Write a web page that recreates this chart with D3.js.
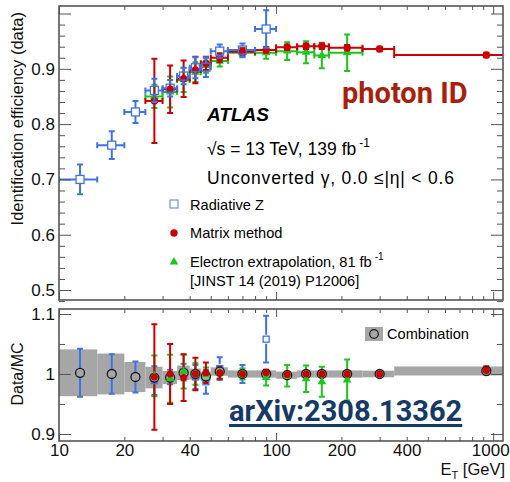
<!DOCTYPE html>
<html>
<head>
<meta charset="utf-8">
<script src="https://cdn.jsdelivr.net/npm/d3@7"></script>
<style>
  body { margin: 0; background: #fff; }
  svg { display: block; }
  text { font-family: "Liberation Sans", Arial, sans-serif; }
</style>
</head>
<body>
<svg id="chart"></svg>
<script>
// ---- data ----
const binLo  = [10, 15, 20, 25, 30, 35, 40, 45, 50, 60, 80, 100, 125, 150, 175, 250, 350];
const binHi  = [15, 20, 25, 30, 35, 40, 45, 50, 60, 80, 100, 125, 150, 175, 250, 350, 1500];
const binMid = [12.5, 17.5, 22.5, 27.5, 32.5, 37.5, 42.5, 47.5, 55, 70, 90, 112.5, 137.5, 162.5, 212.5, 300, 930];

// Radiative Z (bins 0-10)
const radZEff      = [0.700, 0.762, 0.822, 0.861, 0.865, 0.887, 0.902, 0.903, 0.932, 0.934, 0.972];
const radZEffErr   = [0.027, 0.025, 0.020, 0.021, 0.015, 0.015, 0.019, 0.018, 0.012, 0.012, 0.034];
const radZRatio    = [1.002, 1.000, 0.995, 0.989, 0.995, 1.003, 0.995, 0.987, 1.009, 1.000, 1.058];
const radZRatioErr = [0.040, 0.033, 0.026, 0.024, 0.012, 0.014, 0.020, 0.020, 0.019, 0.015, 0.039];

// Matrix method (bins 3-16)
const mmEff      = [0.842, 0.863, 0.882, 0.898, 0.910, 0.920, 0.931, 0.934, 0.939, 0.941, 0.941, 0.938, 0.936, 0.925];
const mmEffErr   = [0.076, 0.043, 0.033, 0.024, 0.012, 0.008, 0.006, 0.005, 0.005, 0.005, 0.005, 0.005, 0.004, 0.004];
const mmRatio    = [0.995, 1.000, 0.994, 1.000, 1.002, 1.002, 1.000, 1.002, 0.999, 1.000, 1.000, 1.000, 1.000, 1.006];
const mmRatioErr = [0.088, 0.050, 0.039, 0.027, 0.017, 0.010, 0.005, 0.005, 0.005, 0.005, 0.005, 0.005, 0.004, 0.007];

// Electron extrapolation (bins 3-14)
const eeEff      = [0.850, 0.858, 0.880, 0.894, 0.906, 0.914, 0.929, 0.929, 0.932, 0.930, 0.924, 0.929];
const eeEffErr   = [0.021, 0.028, 0.022, 0.018, 0.013, 0.010, 0.008, 0.011, 0.016, 0.020, 0.023, 0.033];
const eeRatio    = [0.997, 0.992, 1.004, 1.000, 0.999, 1.002, 1.000, 0.994, 0.997, 0.992, 0.987, 0.990];
const eeRatioErr = [0.034, 0.040, 0.028, 0.018, 0.012, 0.010, 0.009, 0.013, 0.018, 0.022, 0.025, 0.034];

// Combination (all bins)
const combRatio = [1.002, 1.000, 0.995, 0.994, 0.994, 1.002, 1.000, 0.996, 1.004, 1.000, 1.000, 0.998, 1.000, 1.000, 1.000, 1.000, 1.005];
const combErr   = [0.039, 0.034, 0.025, 0.018, 0.011, 0.012, 0.009, 0.008, 0.007, 0.006, 0.006, 0.006, 0.006, 0.006, 0.006, 0.0055, 0.0075];

const xTickLabels   = [10, 20, 40, 100, 200, 400, 1000];
const xMajorTicks   = [10, 100, 1000];
const yTopLabels    = [0.5, 0.6, 0.7, 0.8, 0.9, 1.0];
const yBottomLabels = [0.9, 1.0, 1.1];

// ---- setup ----
const W = 510, H = 482;
const blue = '#3f72e8', red = '#cc0000', green = '#19c819', band = '#a6a6a6', frameCol = '#555';

const svg = d3.select('#chart').attr('width', W).attr('height', H);

const x = d3.scaleLog().domain([10, 1110]).range([59, 503]);
const yTop = d3.scaleLinear().domain([0.482, 1.0136]).range([300, 6]);
const yBot = d3.scaleLinear().domain([0.8883, 1.1083]).range([441, 309]);

const series = (first, vals, errs) => vals.map((v, i) => ({
    lo: binLo[first + i], hi: binHi[first + i], e: binMid[first + i], v: v, err: errs[i]
}));

const radZ  = series(0, radZEff, radZEffErr);
const mm    = series(3, mmEff, mmEffErr);
const ee    = series(3, eeEff, eeEffErr);
const radZR = series(0, radZRatio, radZRatioErr);
const mmR   = series(3, mmRatio, mmRatioErr);
const eeR   = series(3, eeRatio, eeRatioErr);
const comb  = series(0, combRatio, combErr);

const defs = svg.append('defs');
defs.append('clipPath').attr('id', 'clipTop').append('rect')
    .attr('x', x.range()[0]).attr('y', yTop.range()[1])
    .attr('width', x.range()[1] - x.range()[0]).attr('height', yTop.range()[0] - yTop.range()[1]);
defs.append('clipPath').attr('id', 'clipBot').append('rect')
    .attr('x', x.range()[0]).attr('y', yBot.range()[1])
    .attr('width', x.range()[1] - x.range()[0]).attr('height', yBot.range()[0] - yBot.range()[1]);

// error bar path with caps, optional gap around an open marker
function errorPath(p, y, withX, gap, cap) {
    const path = d3.path();
    const cx = x(p.e), cy = y(p.v), yt = y(p.v + p.err), yb = y(p.v - p.err);
    path.moveTo(cx, yt); path.lineTo(cx, cy - gap);
    path.moveTo(cx, cy + gap); path.lineTo(cx, yb);
    path.moveTo(cx - cap, yt); path.lineTo(cx + cap, yt);
    path.moveTo(cx - cap, yb); path.lineTo(cx + cap, yb);
    if (withX) {
        const xl = x(p.lo), xr = x(p.hi);
        path.moveTo(xl, cy); path.lineTo(cx - gap, cy);
        path.moveTo(cx + gap, cy); path.lineTo(xr, cy);
        path.moveTo(xl, cy - cap); path.lineTo(xl, cy + cap);
        path.moveTo(xr, cy - cap); path.lineTo(xr, cy + cap);
    }
    return path.toString();
}

function drawErrors(g, data, y, color, withX, gap) {
    g.append('g').selectAll('path').data(data).join('path')
        .attr('d', d => errorPath(d, y, withX, gap, 3))
        .attr('fill', 'none').attr('stroke', color).attr('stroke-width', 2);
}

const tri = d3.symbol(d3.symbolTriangle, 32);

function drawSquares(g, data, y, size, color) {
    g.append('g').selectAll('rect').data(data).join('rect')
        .attr('x', d => x(d.e) - size / 2).attr('y', d => y(d.v) - size / 2)
        .attr('width', size).attr('height', size)
        .attr('fill', 'none').attr('stroke', color).attr('stroke-width', 1.3);
}
function drawCircles(g, data, y, r, color) {
    g.append('g').selectAll('circle').data(data).join('circle')
        .attr('cx', d => x(d.e)).attr('cy', d => y(d.v)).attr('r', r).attr('fill', color);
}
function drawTriangles(g, data, y, color) {
    g.append('g').selectAll('path').data(data).join('path')
        .attr('transform', d => `translate(${x(d.e)}, ${y(d.v)})`)
        .attr('d', tri).attr('fill', color);
}

// ---- upper panel ----
const upper = svg.append('g').attr('clip-path', 'url(#clipTop)');
drawErrors(upper, ee, yTop, green, true, 0);
drawTriangles(upper, ee, yTop, green);
drawErrors(upper, mm, yTop, red, true, 0);
drawCircles(upper, mm, yTop, 3.7, red);
drawErrors(upper, radZ, yTop, blue, true, 4);
drawSquares(upper, radZ, yTop, 8, blue);

// ---- lower panel ----
const lower = svg.append('g').attr('clip-path', 'url(#clipBot)');
lower.append('g').selectAll('rect').data(comb).join('rect')
    .attr('x', d => x(d.lo)).attr('width', d => x(d.hi) - x(d.lo))
    .attr('y', d => yBot(d.v + d.err)).attr('height', d => yBot(d.v - d.err) - yBot(d.v + d.err))
    .attr('fill', band);
drawErrors(lower, radZR, yBot, blue, false, 4.5);
drawErrors(lower, eeR, yBot, green, false, 0);
drawErrors(lower, mmR, yBot, red, false, 0);
drawSquares(lower, radZR, yBot, 6, blue);
lower.append('g').selectAll('circle').data(comb).join('circle')
    .attr('cx', d => x(d.e)).attr('cy', d => yBot(d.v)).attr('r', 4.5)
    .attr('fill', band).attr('stroke', '#1a1a1a').attr('stroke-width', 1.3);
drawTriangles(lower, eeR, yBot, green);
drawCircles(lower, mmR, yBot, 3.5, red);

// ---- axes ----
function styleAxis(g) {
    g.select('.domain').remove();
    g.selectAll('line').attr('stroke', frameCol);
    g.selectAll('text').attr('fill', '#111').style('font-size', '17px')
        .style('font-family', '"Liberation Sans", Arial, sans-serif');
}
const xMinor = d3.range(2, 10).flatMap(k => [k * 10, k * 100]);
const yTopMinor = d3.range(24, 51).filter(k => k % 5 !== 0).map(k => k / 50);
const yBotMinor = [0.95, 1.05];

function panelAxes(y, majors, minors, labelFmt, xLabels) {
    const [y0, y1] = y.range();
    const [x0, x1] = x.range();
    svg.append('g').attr('transform', `translate(${x0},0)`)
        .call(d3.axisLeft(y).tickValues(majors).tickSize(-12).tickPadding(4).tickFormat(labelFmt))
        .call(styleAxis);
    svg.append('g').attr('transform', `translate(${x0},0)`)
        .call(d3.axisLeft(y).tickValues(minors).tickSize(-6).tickFormat(''))
        .call(styleAxis);
    svg.append('g').attr('transform', `translate(${x1},0)`)
        .call(d3.axisRight(y).tickValues(majors).tickSize(-12).tickFormat(''))
        .call(styleAxis);
    svg.append('g').attr('transform', `translate(${x1},0)`)
        .call(d3.axisRight(y).tickValues(minors).tickSize(-6).tickFormat(''))
        .call(styleAxis);
    svg.append('g').attr('transform', `translate(0,${y0})`)
        .call(d3.axisBottom(x).tickValues(xMinor).tickSize(-4)
            .tickPadding(3).tickFormat(d => xLabels && xTickLabels.includes(d) ? d : ''))
        .call(styleAxis);
    const majorAxis = svg.append('g').attr('transform', `translate(0,${y0})`)
        .call(d3.axisBottom(x).tickValues(xMajorTicks).tickSize(-8)
            .tickPadding(3).tickFormat(d => xLabels ? d : ''))
        .call(styleAxis);
    // last label sits at the window edge: right-align it so it stays inside
    majorAxis.selectAll('.tick').filter(d => d === 1000).select('text')
        .attr('text-anchor', 'end').attr('dx', 16);
    svg.append('g').attr('transform', `translate(0,${y1})`)
        .call(d3.axisTop(x).tickValues(xMinor).tickSize(-4).tickFormat(''))
        .call(styleAxis);
    svg.append('g').attr('transform', `translate(0,${y1})`)
        .call(d3.axisTop(x).tickValues(xMajorTicks).tickSize(-8).tickFormat(''))
        .call(styleAxis);
    svg.append('rect').attr('x', x0).attr('y', y1).attr('width', x1 - x0).attr('height', y0 - y1)
        .attr('fill', 'none').attr('stroke', frameCol).attr('stroke-width', 1.6);
}
panelAxes(yTop, yTopLabels, yTopMinor, d => d < 0.95 ? d3.format('.1f')(d) : '', false);
panelAxes(yBot, yBottomLabels, yBotMinor, d => d === 1 ? '1' : d3.format('.1f')(d), true);

// ---- axis titles ----
svg.append('text')
    .attr('transform', 'translate(23, 12) rotate(-90)')
    .attr('text-anchor', 'end').style('font-size', '16.5px').attr('fill', '#111')
    .text('Identification efficiency (data)');
svg.append('text')
    .attr('transform', 'translate(23, 374) rotate(-90)')
    .attr('text-anchor', 'middle').style('font-size', '16px').attr('fill', '#111')
    .text('Data/MC');
const xt = svg.append('text').attr('x', 505).attr('y', 475).attr('text-anchor', 'end')
    .style('font-size', '16.5px').attr('fill', '#111');
xt.append('tspan').text('E');
xt.append('tspan').attr('dy', 4).style('font-size', '11px').text('T');
xt.append('tspan').attr('dy', -4).text(' [GeV]');

// ---- labels ----
svg.append('text').attr('x', 207).attr('y', 121)
    .style('font-size', '19px').style('font-weight', 'bold').style('font-style', 'italic')
    .text('ATLAS');
const lumi = svg.append('text').attr('x', 207).attr('y', 155).style('font-size', '17.5px');
lumi.append('tspan').text('\u221As = 13 TeV, 139 fb');
lumi.append('tspan').attr('dx', 3).attr('dy', -8).style('font-size', '12px').text('-1');
svg.append('text').attr('x', 207).attr('y', 184).style('font-size', '17.5px')
    .attr('textLength', 247).attr('lengthAdjust', 'spacing')
    .text('Unconverted \u03B3, 0.0 \u2264|\u03B7| < 0.6');

svg.append('text').attr('x', 342).attr('y', 103)
    .style('font-family', 'Roboto, sans-serif').style('font-weight', 'bold').style('font-size', '29px')
    .attr('fill', '#aa1f0b').text('photon ID');

const arx = svg.append('text').attr('x', 229).attr('y', 421)
    .style('font-family', 'Roboto, sans-serif').style('font-weight', 'bold').style('font-size', '29px')
    .attr('fill', '#153a66').text('arXiv:2308.13362');
const arxLen = arx.node().getComputedTextLength();
svg.append('line').attr('x1', 229).attr('x2', 229 + arxLen).attr('y1', 425.5).attr('y2', 425.5)
    .attr('stroke', '#153a66').attr('stroke-width', 3);

// legend (upper)
const lg = svg.append('g');
lg.append('rect').attr('x', 170).attr('y', 200).attr('width', 8).attr('height', 8)
    .attr('fill', 'none').attr('stroke', '#6d93ef').attr('stroke-width', 1.2);
lg.append('circle').attr('cx', 174).attr('cy', 233).attr('r', 3.7).attr('fill', red);
lg.append('path').attr('transform', 'translate(174, 262)').attr('d', tri).attr('fill', green);
lg.append('text').attr('x', 190).attr('y', 210).style('font-size', '14.6px').text('Radiative Z');
lg.append('text').attr('x', 190).attr('y', 238).style('font-size', '14.6px').text('Matrix method');
const el = lg.append('text').attr('x', 190).attr('y', 267).style('font-size', '14.6px');
el.append('tspan').text('Electron extrapolation, 81 fb');
el.append('tspan').attr('dx', 3).attr('dy', -7).style('font-size', '10px').text('-1');
lg.append('text').attr('x', 190).attr('y', 286).style('font-size', '14.6px').text('[JINST 14 (2019) P12006]');

// legend (lower)
svg.append('rect').attr('x', 365).attr('y', 327).attr('width', 18).attr('height', 14).attr('fill', band);
svg.append('circle').attr('cx', 374).attr('cy', 334).attr('r', 4.3)
    .attr('fill', 'none').attr('stroke', '#1a1a1a').attr('stroke-width', 1.2);
svg.append('text').attr('x', 387).attr('y', 339).style('font-size', '14.6px').text('Combination');
</script>
</body>
</html>
